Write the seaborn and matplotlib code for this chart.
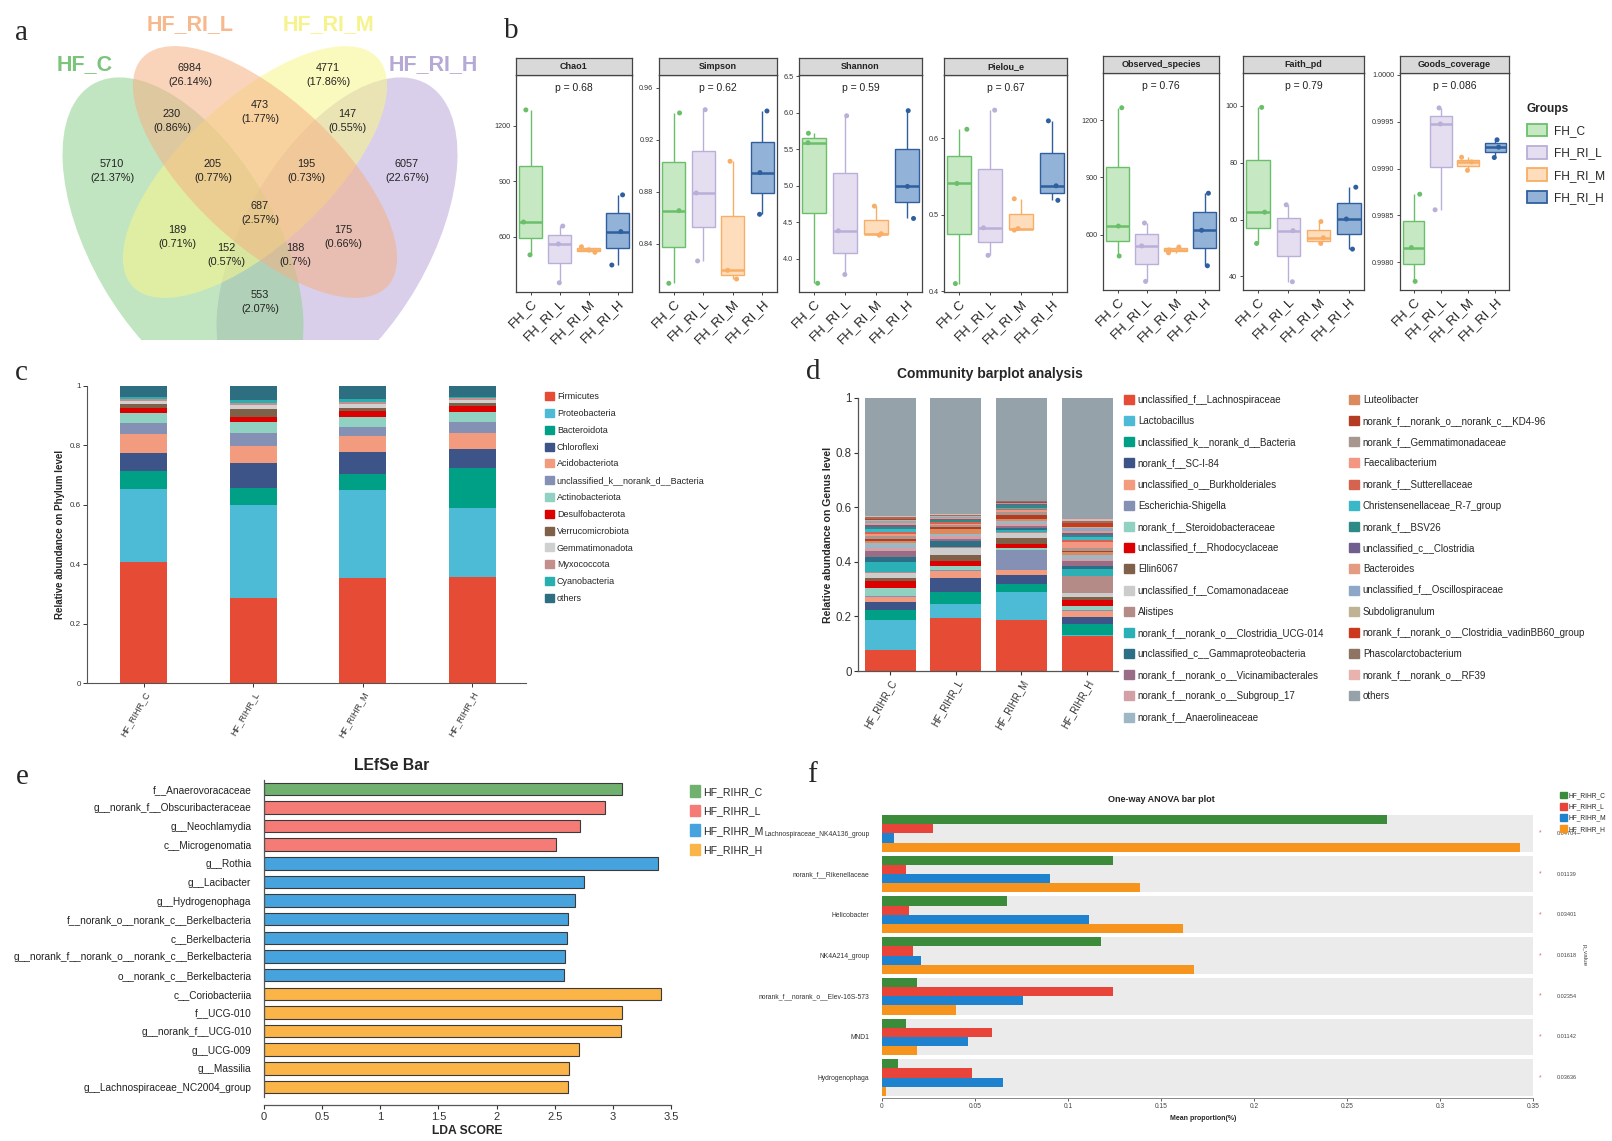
import numpy as np
import pandas as pd
import matplotlib
matplotlib.use("Agg")
import matplotlib.pyplot as plt
from matplotlib.patches import Ellipse, Patch
import seaborn as sns

W, H = 1612, 1141

# ---------------- a: Venn ----------------
venn_names = ["HF_C", "HF_RI_L", "HF_RI_M", "HF_RI_H"]
venn_counts = [5710, 6984, 4771, 6057, 230, 473, 147, 205, 195, 687, 189, 175, 152, 188, 553]
venn_pcts = ["21.37%", "26.14%", "17.86%", "22.67%", "0.86%", "1.77%", "0.55%", "0.77%",
             "0.73%", "2.57%", "0.71%", "0.66%", "0.57%", "0.7%", "2.07%"]

# ---------------- b: alpha diversity (3 samples per group) ----------------
alpha_groups = ["FH_C", "FH_RI_L", "FH_RI_M", "FH_RI_H"]
alpha_metrics = ["Chao1", "Simpson", "Shannon", "Pielou_e", "Observed_species", "Faith_pd", "Goods_coverage"]
alpha_p = ["p = 0.68", "p = 0.62", "p = 0.59", "p = 0.67", "p = 0.76", "p = 0.79", "p = 0.086"]
chao1 = [[1286, 679, 501], [657, 560, 350], [545, 528, 515], [826, 627, 446]]
simpson = [[0.9408, 0.8656, 0.8097], [0.9433, 0.8792, 0.8269], [0.9036, 0.8197, 0.8130], [0.9423, 0.8949, 0.8628]]
shannon = [[5.72, 5.59, 3.66], [5.96, 4.38, 3.78], [4.72, 4.34, 4.32], [6.03, 4.99, 4.55]]
pielou = [[0.612, 0.541, 0.410], [0.637, 0.483, 0.447], [0.521, 0.482, 0.480], [0.623, 0.538, 0.519]]
observed = [[1265, 645, 488], [661, 541, 355], [535, 520, 505], [817, 623, 437]]
faith = [[99.5, 62.6, 51.6], [65.2, 56.1, 38.1], [59.3, 53.6, 51.6], [71.4, 60.2, 49.6]]
goods = [[0.998726, 0.998157, 0.997797], [0.999646, 0.999475, 0.998560],
         [0.999120, 0.999070, 0.998980], [0.999306, 0.999228, 0.999117]]

# ---------------- c: phylum composition ----------------
samples = ["HF_RIHR_C", "HF_RIHR_L", "HF_RIHR_M", "HF_RIHR_H"]
phyla = ["Firmicutes", "Proteobacteria", "Bacteroidota", "Chloroflexi", "Acidobacteriota",
         "unclassified_k__norank_d__Bacteria", "Actinobacteriota", "Desulfobacterota",
         "Verrucomicrobiota", "Gemmatimonadota", "Myxococcota", "Cyanobacteria", "others"]
phylum_c = [0.406, 0.248, 0.060, 0.062, 0.061, 0.037, 0.034, 0.017, 0.014, 0.012, 0.006, 0.007, 0.036]
phylum_l = [0.286, 0.312, 0.060, 0.082, 0.059, 0.042, 0.039, 0.015, 0.029, 0.012, 0.007, 0.009, 0.048]
phylum_m = [0.355, 0.295, 0.053, 0.075, 0.053, 0.030, 0.034, 0.021, 0.010, 0.012, 0.008, 0.010, 0.044]
phylum_h = [0.358, 0.232, 0.134, 0.065, 0.053, 0.037, 0.035, 0.018, 0.010, 0.010, 0.007, 0.005, 0.036]

# ---------------- d: genus composition ----------------
genera = ["unclassified_f__Lachnospiraceae", "Lactobacillus", "unclassified_k__norank_d__Bacteria",
          "norank_f__SC-I-84", "unclassified_o__Burkholderiales", "Escherichia-Shigella",
          "norank_f__Steroidobacteraceae", "unclassified_f__Rhodocyclaceae", "Ellin6067",
          "unclassified_f__Comamonadaceae", "Alistipes", "norank_f__norank_o__Clostridia_UCG-014",
          "unclassified_c__Gammaproteobacteria", "norank_f__norank_o__Vicinamibacterales",
          "norank_f__norank_o__Subgroup_17", "norank_f__Anaerolineaceae", "Luteolibacter",
          "norank_f__norank_o__norank_c__KD4-96", "norank_f__Gemmatimonadaceae", "Faecalibacterium",
          "norank_f__Sutterellaceae", "Christensenellaceae_R-7_group", "norank_f__BSV26",
          "unclassified_c__Clostridia", "Bacteroides", "unclassified_f__Oscillospiraceae",
          "Subdoligranulum", "norank_f__norank_o__Clostridia_vadinBB60_group",
          "Phascolarctobacterium", "norank_f__norank_o__RF39", "others"]
genus_c = [0.077, 0.110, 0.036, 0.028, 0.021, 0.003, 0.028, 0.027, 0.010, 0.018, 0.003, 0.037, 0.018,
           0.022, 0.012, 0.019, 0.009, 0.006, 0.012, 0.006, 0.006, 0.012, 0.006, 0.009, 0.007, 0.006,
           0.006, 0.004, 0.005, 0.005, 0.432]
genus_l = [0.193, 0.052, 0.043, 0.051, 0.028, 0.002, 0.015, 0.018, 0.024, 0.025, 0.002, 0.003, 0.021,
           0.008, 0.008, 0.008, 0.020, 0.008, 0.006, 0.005, 0.004, 0.003, 0.006, 0.003, 0.004, 0.003,
           0.003, 0.003, 0.003, 0.003, 0.425]
genus_m = [0.187, 0.104, 0.028, 0.033, 0.018, 0.073, 0.006, 0.016, 0.023, 0.018, 0.004, 0.005, 0.008,
           0.007, 0.008, 0.010, 0.010, 0.015, 0.008, 0.008, 0.004, 0.004, 0.010, 0.003, 0.003, 0.002,
           0.002, 0.002, 0.002, 0.003, 0.376]
genus_h = [0.128, 0.003, 0.040, 0.027, 0.022, 0.002, 0.017, 0.022, 0.010, 0.014, 0.062, 0.026, 0.011,
           0.018, 0.010, 0.013, 0.010, 0.006, 0.011, 0.020, 0.008, 0.010, 0.008, 0.008, 0.008, 0.008,
           0.006, 0.015, 0.008, 0.006, 0.443]

# ---------------- e: LEfSe ----------------
lefse_taxa = ["f__Anaerovoracaceae", "g__norank_f__Obscuribacteraceae", "g__Neochlamydia",
              "c__Microgenomatia", "g__Rothia", "g__Lacibacter", "g__Hydrogenophaga",
              "f__norank_o__norank_c__Berkelbacteria", "c__Berkelbacteria",
              "g__norank_f__norank_o__norank_c__Berkelbacteria", "o__norank_c__Berkelbacteria",
              "c__Coriobacteriia", "f__UCG-010", "g__norank_f__UCG-010", "g__UCG-009",
              "g__Massilia", "g__Lachnospiraceae_NC2004_group"]
lefse_lda = [3.079, 2.931, 2.720, 2.509, 3.387, 2.754, 2.674, 2.615, 2.602, 2.590, 2.577,
             3.412, 3.075, 3.066, 2.712, 2.619, 2.611]
lefse_group = ["HF_RIHR_C"] + ["HF_RIHR_L"] * 3 + ["HF_RIHR_M"] * 7 + ["HF_RIHR_H"] * 6

# ---------------- f: one-way ANOVA ----------------
anova_taxa = ["Lachnospiraceae_NK4A136_group", "norank_f__Rikenellaceae", "Helicobacter",
              "NK4A214_group", "norank_f__norank_o__Elev-16S-573", "MND1", "Hydrogenophaga"]
anova_c = [0.2713, 0.1240, 0.0674, 0.1176, 0.0190, 0.0127, 0.0084]
anova_l = [0.0274, 0.0127, 0.0147, 0.0168, 0.1240, 0.0590, 0.0484]
anova_m = [0.0063, 0.0903, 0.1113, 0.0210, 0.0756, 0.0464, 0.0652]
anova_h = [0.3428, 0.1387, 0.1620, 0.1680, 0.0400, 0.0190, 0.0022]
anova_p = ["0.04704", "0.01139", "0.03401", "0.01618", "0.02354", "0.01142", "0.03636"]

# ---------------- style ----------------
sns.set_theme(style="white")
plt.rcParams["font.family"] = ["Liberation Sans", "DejaVu Sans"]
SERIF = ["Liberation Serif", "DejaVu Serif"]

venn_colors = ["#8FD18F", "#F5B184", "#F9F78A", "#BBA8DA"]
venn_label_colors = ["#7CC47C", "#F6B88C", "#F6F38C", "#B7A9D6"]
box_edge = ["#6BBF6B", "#B9AFD8", "#F8AE66", "#2F5F9F"]
box_fill = ["#C6E9C3", "#E4DEF0", "#FEDDBD", "#93B2D8"]
phylum_colors = ["#E64B35", "#4DBBD5", "#00A087", "#3C5488", "#F39B7F", "#8491B4", "#91D1C2",
                 "#DC0000", "#7E6148", "#D0D0D0", "#C48E8C", "#2AAFB0", "#2D6F80"]
genus_colors = ["#E64B35", "#4DBBD5", "#00A087", "#3C5488", "#F39B7F", "#8491B4", "#91D1C2",
                "#DC0000", "#7E6148", "#CCCCCC", "#B58B87", "#2BB1B5", "#2C7087", "#9A6D86",
                "#D4A0A8", "#9DB7C4", "#DA8A5C", "#B43C22", "#A8978F", "#F39783", "#D5634F",
                "#3AB8C8", "#2E8A85", "#6F5E8E", "#E59A82", "#8EA7C9", "#BFB394", "#CB3A1E",
                "#8E7462", "#E8B2AE", "#95A2A9"]
lefse_colors = {"HF_RIHR_C": "#70B170", "HF_RIHR_L": "#F47B76", "HF_RIHR_M": "#47A3DD", "HF_RIHR_H": "#FBB447"}
anova_colors = ["#3B8B3B", "#E8443A", "#1F82CE", "#F7941D"]


def px_box(x0, y0, x1, y1):
    return [x0 / W, 1 - y1 / H, (x1 - x0) / W, (y1 - y0) / H]


def fx(x):
    return x / W


def fy(y):
    return 1 - y / H


fig = plt.figure(figsize=(W / 100, H / 100), dpi=100)

for letter, lx, ly in [("a", 22, 33), ("b", 511, 31), ("c", 21, 373),
                       ("d", 813, 372), ("e", 22, 777), ("f", 812, 775)]:
    fig.text(fx(lx), fy(ly), letter, family=SERIF, fontsize=21, ha="center", va="center")

# ================= a =================
ax = fig.add_axes(px_box(0, 0, 490, 340))
ax.set_xlim(0, 490)
ax.set_ylim(340, 0)
ax.axis("off")
# ellipse geometry per set: centre, width, height, angle (pixel space, y down)
ell_specs = [((183, 240), 360, 185, 60), ((265, 172), 335, 145, 43),
             ((255, 172), 335, 145, -43), ((337, 240), 360, 185, -60)]
for k in [3, 0, 2, 1]:
    (cx, cy), ew, eh, ang = ell_specs[k]
    ax.add_patch(Ellipse((cx, cy), ew, eh, angle=ang, facecolor=venn_colors[k],
                         edgecolor="none", alpha=0.55))
label_xy = [(85, 65), (190, 25), (328, 25), (433, 65)]
for name, (tx, ty), col in zip(venn_names, label_xy, venn_label_colors):
    ax.text(tx, ty, name, color=col, fontsize=15.5, fontweight="bold", ha="center", va="center")
count_xy = [(112, 171), (190, 75), (328, 75), (407, 171), (172, 121), (260, 112), (347, 121),
            (213, 171), (306, 171), (260, 213), (177, 237), (343, 237), (226, 255), (295, 255),
            (260, 302)]
for n, p, (tx, ty) in zip(venn_counts, venn_pcts, count_xy):
    ax.text(tx, ty, f"{n}\n({p})", fontsize=7.8, ha="center", va="center", linespacing=1.45,
            color="#222222")

# ================= b =================
alpha_values = [chao1, simpson, shannon, pielou, observed, faith, goods]
b_cols = [(516, 632), (659, 777), (799, 922), (944, 1067), (1103, 1219), (1243, 1364), (1400, 1509)]
b_rows = [(58, 75, 292)] * 4 + [(56, 73, 290)] * 3
b_ylims = [(300, 1475), (0.803, 0.970), (3.54, 6.52), (0.399, 0.683), (310, 1447), (35.2, 111.6),
           (0.997705, 1.000018)]
b_ticks = [[600, 900, 1200], [0.84, 0.88, 0.92, 0.96], [4.0, 4.5, 5.0, 5.5, 6.0, 6.5], [0.4, 0.5, 0.6],
           [600, 900, 1200], [40, 60, 80, 100], [0.998, 0.9985, 0.999, 0.9995, 1.0]]
b_fmt = ["{:.0f}", "{:.2f}", "{:.1f}", "{:.1f}", "{:.0f}", "{:.0f}", "{:.4f}"]

np.random.seed(11)
for i, (name, vals) in enumerate(zip(alpha_metrics, alpha_values)):
    df = pd.DataFrame({"group": np.repeat(alpha_groups, 3), "value": np.concatenate(vals)})
    x0, x1 = b_cols[i]
    s0, s1, yb = b_rows[i]
    ax = fig.add_axes(px_box(x0, s1, x1, yb))
    sns.boxplot(data=df, x="group", y="value", hue="group", order=alpha_groups, hue_order=alpha_groups,
                palette=box_fill, width=0.78, linewidth=1.0, showcaps=False, showfliers=False,
                saturation=1, legend=False, ax=ax)
    for cont, ec in zip(ax.containers, box_edge):
        for art in cont.boxes:
            art.set_edgecolor(ec)
        for art in list(cont.whiskers):
            art.set_color(ec)
        for art in list(cont.medians):
            art.set_color(ec)
            art.set_linewidth(1.8)
    sns.stripplot(data=df, x="group", y="value", hue="group", order=alpha_groups, hue_order=alpha_groups,
                  palette=box_edge, jitter=0.25, size=3.6, legend=False, ax=ax)
    ax.set_ylim(*b_ylims[i])
    ax.set_yticks(b_ticks[i], [b_fmt[i].format(t) for t in b_ticks[i]])
    ax.set_xlabel("")
    ax.set_ylabel("")
    ax.tick_params(axis="y", left=True, length=2.5, width=0.6, labelsize=5.2, pad=1.5, colors="#333333")
    ax.tick_params(axis="x", bottom=True, length=2.5, width=0.6, labelsize=9.5, pad=1, colors="#222222")
    plt.setp(ax.get_xticklabels(), rotation=45, ha="right", rotation_mode="anchor")
    for s in ax.spines.values():
        s.set_color("#444444")
        s.set_linewidth(0.9)
    ax.text(0.5, 0.965, alpha_p[i], transform=ax.transAxes, ha="center", va="top", fontsize=7.5,
            color="#222222")
    sax = fig.add_axes(px_box(x0, s0, x1, s1))
    sax.set_facecolor("#D9D9D9")
    sax.set_xticks([])
    sax.set_yticks([])
    for s in sax.spines.values():
        s.set_color("#444444")
        s.set_linewidth(0.9)
    sax.text(0.5, 0.5, name, transform=sax.transAxes, ha="center", va="center", fontsize=6.5,
             fontweight="bold", color="#222222")

b_handles = [Patch(facecolor=f, edgecolor=e, linewidth=1.3) for f, e in zip(box_fill, box_edge)]
fig.legend(b_handles, alpha_groups, title="Groups", loc="upper left",
           bbox_to_anchor=(fx(1516), fy(92)), frameon=False, fontsize=8.6,
           title_fontproperties={"weight": "bold", "size": 8.6}, handlelength=1.7,
           handleheight=1.25, labelspacing=0.75, handletextpad=0.6, alignment="left")

# ================= c =================
ax = fig.add_axes(px_box(87, 386, 526, 683))
xpos = np.arange(len(samples))
phylum_table = np.array([phylum_c, phylum_l, phylum_m, phylum_h]).T
bottom = np.zeros(len(samples))
for name, row, col in zip(phyla, phylum_table, phylum_colors):
    ax.bar(xpos, row, bottom=bottom, width=0.43, color=col, label=name, linewidth=0)
    bottom += row
ax.set_xlim(-0.52, 3.49)
ax.set_ylim(0, 1)
ax.set_yticks([0, 0.2, 0.4, 0.6, 0.8, 1.0], ["0", "0.2", "0.4", "0.6", "0.8", "1"])
ax.set_xticks(xpos, samples)
ax.tick_params(axis="y", left=True, length=3, width=0.7, labelsize=5.8, pad=1.5, colors="#333333")
ax.tick_params(axis="x", bottom=True, length=3, width=0.7, labelsize=6.5, pad=2, colors="#333333")
plt.setp(ax.get_xticklabels(), rotation=60, ha="right", rotation_mode="anchor")
ax.spines["top"].set_visible(False)
ax.spines["right"].set_visible(False)
for s in ("left", "bottom"):
    ax.spines[s].set_color("#555555")
    ax.spines[s].set_linewidth(0.8)
ax.set_ylabel("Relative abundance on Phylum level", fontsize=7, fontweight="bold", labelpad=3)
c_handles = [Patch(color=col) for col in phylum_colors]
fig.legend(c_handles, phyla, loc="upper left", bbox_to_anchor=(fx(537), fy(384)), frameon=False,
           fontsize=6.5, handlelength=1.0, handleheight=1.0, labelspacing=0.85, handletextpad=0.3)

# ================= d =================
ax = fig.add_axes(px_box(858, 398, 1118, 671))
genus_table = np.array([genus_c, genus_l, genus_m, genus_h]).T
bottom = np.zeros(len(samples))
for name, row, col in zip(genera, genus_table, genus_colors):
    ax.bar(xpos, row, bottom=bottom, width=0.78, color=col, label=name, linewidth=0)
    bottom += row
ax.set_xlim(-0.49, 3.47)
ax.set_ylim(0, 1)
ax.set_yticks([0, 0.2, 0.4, 0.6, 0.8, 1.0], ["0", "0.2", "0.4", "0.6", "0.8", "1"])
ax.set_xticks(xpos, samples)
ax.tick_params(axis="y", left=True, length=3, width=0.8, labelsize=8.3, pad=1.5, colors="#333333")
ax.tick_params(axis="x", bottom=True, length=3, width=0.8, labelsize=7, pad=2, colors="#333333")
plt.setp(ax.get_xticklabels(), rotation=60, ha="right", rotation_mode="anchor")
ax.spines["top"].set_visible(False)
ax.spines["right"].set_visible(False)
for s in ("left", "bottom"):
    ax.spines[s].set_color("#555555")
    ax.spines[s].set_linewidth(0.9)
ax.set_ylabel("Relative abundance on Genus level", fontsize=7.6, fontweight="bold", labelpad=2)
fig.text(fx(990), fy(374), "Community barplot analysis", fontsize=10, fontweight="bold",
         ha="center", va="center")
d_handles = [Patch(color=col) for col in genus_colors]
fig.legend(d_handles[:16], genera[:16], loc="upper left", bbox_to_anchor=(fx(1115), fy(386)),
           frameon=False, fontsize=7, handlelength=1.05, handleheight=1.05, labelspacing=1.15,
           handletextpad=0.4)
fig.legend(d_handles[16:], genera[16:], loc="upper left", bbox_to_anchor=(fx(1340), fy(386)),
           frameon=False, fontsize=7, handlelength=1.05, handleheight=1.05, labelspacing=1.15,
           handletextpad=0.4)

# ================= e =================
ax = fig.add_axes(px_box(264, 780, 671, 1097))
lefse_df = pd.DataFrame({"taxon": lefse_taxa, "lda": lefse_lda, "group": lefse_group})
sns.barplot(data=lefse_df, x="lda", y="taxon", hue="group", order=lefse_taxa,
            hue_order=list(lefse_colors), palette=lefse_colors, dodge=False, width=0.67,
            edgecolor="#3a3a3a", linewidth=0.8, saturation=1, legend=False, errorbar=None, ax=ax)
ax.set_xlim(0, 3.5)
ax.set_ylim(16.54, -0.47)
ax.set_xticks(np.arange(0, 3.51, 0.5), ["0", "0.5", "1", "1.5", "2", "2.5", "3", "3.5"])
ax.set_xlabel("LDA SCORE", fontsize=8.7, fontweight="bold", labelpad=2)
ax.set_ylabel("")
ax.tick_params(axis="x", bottom=True, length=3, width=0.8, labelsize=8, pad=2, colors="#333333")
ax.tick_params(axis="y", left=False, labelsize=7.3, pad=3, colors="#222222")
ax.spines["top"].set_visible(False)
ax.spines["right"].set_visible(False)
ax.spines["bottom"].set_position(("outward", 6))
for s in ("left", "bottom"):
    ax.spines[s].set_color("#555555")
    ax.spines[s].set_linewidth(0.9)
fig.text(fx(392), fy(765), "LEfSe Bar", fontsize=11.3, fontweight="bold", ha="center", va="center")
e_handles = [Patch(color=c) for c in lefse_colors.values()]
fig.legend(e_handles, list(lefse_colors), loc="upper left", bbox_to_anchor=(fx(680), fy(776)),
           frameon=False, fontsize=7.6, handlelength=1.0, handleheight=1.3, labelspacing=0.75,
           handletextpad=0.3)

# ================= f =================
ax = fig.add_axes(px_box(882, 813, 1533, 1098))
anova_groups = ["HF_RIHR_C", "HF_RIHR_L", "HF_RIHR_M", "HF_RIHR_H"]
anova_df = pd.DataFrame({
    "taxon": anova_taxa * 4,
    "group": np.repeat(anova_groups, len(anova_taxa)),
    "value": anova_c + anova_l + anova_m + anova_h,
})
for i in range(len(anova_taxa)):
    ax.axhspan(i - 0.45, i + 0.45, color="#EBEBEB", zorder=0, linewidth=0)
sns.barplot(data=anova_df, x="value", y="taxon", hue="group", order=anova_taxa, hue_order=anova_groups,
            palette=anova_colors, width=0.9, gap=0, saturation=1, errorbar=None, legend=False,
            linewidth=0, ax=ax)
ax.set_xlim(0, 0.35)
ax.set_ylim(6.5, -0.5)
ax.set_xticks(np.arange(0, 0.351, 0.05), ["0", "0.05", "0.1", "0.15", "0.2", "0.25", "0.3", "0.35"])
ax.set_xlabel("")
ax.set_ylabel("")
ax.tick_params(axis="x", bottom=True, length=2, width=0.6, labelsize=4.8, pad=1.5, colors="#444444")
ax.tick_params(axis="y", left=False, labelsize=4.9, pad=3, colors="#333333")
for s in ("top", "right", "left"):
    ax.spines[s].set_visible(False)
ax.spines["bottom"].set_color("#888888")
ax.spines["bottom"].set_linewidth(0.7)
ytr = ax.get_yaxis_transform()
for i, p in enumerate(anova_p):
    ax.text(1.011, i, "*", transform=ytr, color="#E06666", fontsize=5, ha="center", va="center")
    ax.text(1.036, i, p, transform=ytr, color="#444444", fontsize=4, ha="left", va="center")
ax.text(1.079, 3, "p_value", transform=ytr, rotation=270, fontsize=4.6, ha="center", va="center",
        color="#444444")
fig.text(fx(1161), fy(800), "One-way ANOVA bar plot", fontsize=6.5, fontweight="bold",
         ha="center", va="center")
fig.text(fx(1203), fy(1119), "Mean proportion(%)", fontsize=5, fontweight="bold",
         ha="center", va="center")
f_handles = [Patch(color=c) for c in anova_colors]
fig.legend(f_handles, anova_groups, loc="upper left", bbox_to_anchor=(fx(1554), fy(786)),
           frameon=False, fontsize=4.8, handlelength=1.1, handleheight=1.1, labelspacing=0.55,
           handletextpad=0.2)

fig.savefig("out.png", dpi=100)
